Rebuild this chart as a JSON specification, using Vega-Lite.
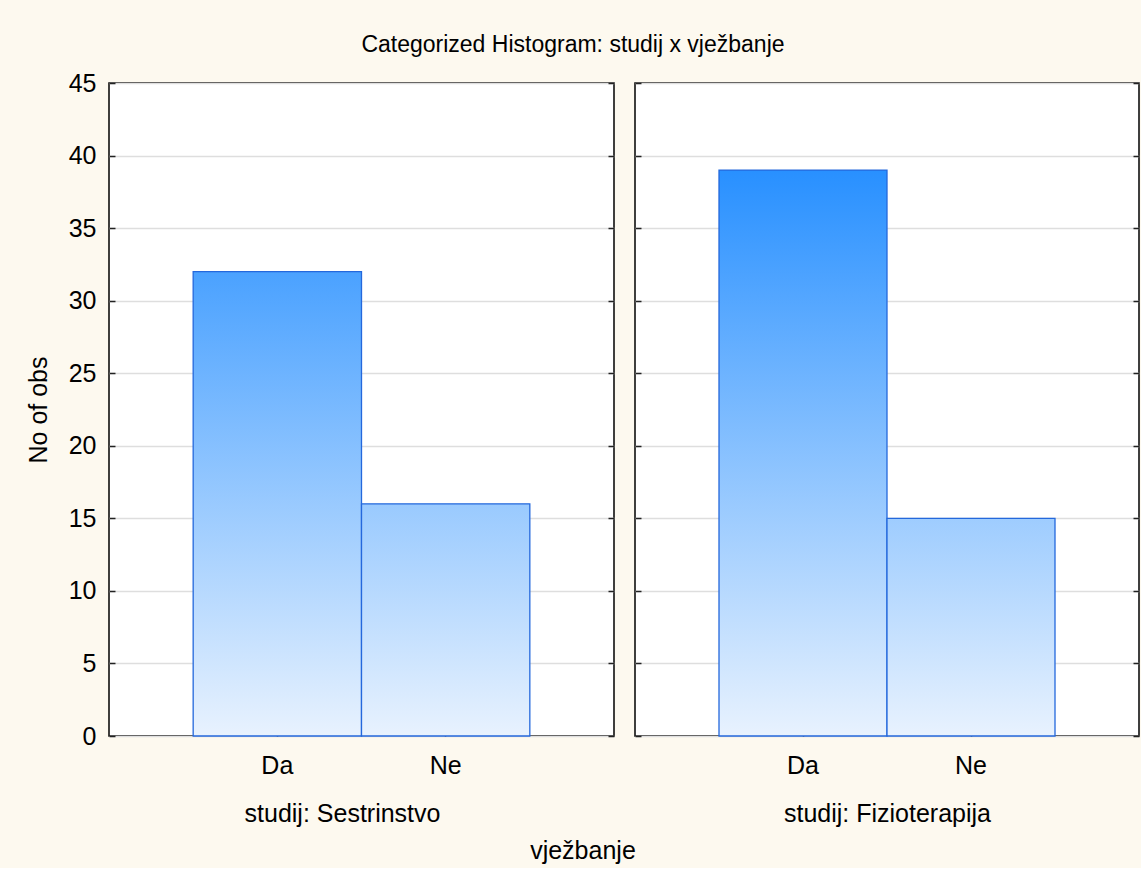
{
  "$schema": "https://vega.github.io/schema/vega-lite/v6.json",
  "background": "#fdf9ef",
  "padding": {"left": 25, "top": 34, "right": 0, "bottom": 4},
  "title": {"text": "Categorized Histogram: studij x vježbanje", "font": "Liberation Sans", "fontSize": 23, "fontWeight": "normal", "color": "#000", "anchor": "middle", "offset": 13, "dx": -10},
  "data": {"values": [
    {"studij": "Sestrinstvo", "vjezbanje": "Da", "n": 32},
    {"studij": "Sestrinstvo", "vjezbanje": "Ne", "n": 16},
    {"studij": "Fizioterapija", "vjezbanje": "Da", "n": 39},
    {"studij": "Fizioterapija", "vjezbanje": "Ne", "n": 15}
  ]},
  "vconcat": [
    {
      "title": {"text": "vježbanje", "orient": "bottom", "font": "Liberation Sans", "fontSize": 25, "fontWeight": "normal", "color": "#000", "anchor": "middle", "offset": 12},
      "spacing": 17,
      "hconcat": [
        {
          "width": 505,
          "height": 653,
          "transform": [{"filter": "datum.studij === 'Sestrinstvo'"}],
          "layer": [
            {
              "mark": {"type": "bar", "stroke": "#2468dc", "strokeWidth": 1.3},
              "encoding": {
                "x": {"field": "vjezbanje", "type": "nominal", "sort": ["Da", "Ne"], "scale": {"paddingInner": 0, "paddingOuter": 0.5}, "axis": {"title": "studij: Sestrinstvo", "labelAngle": 0, "tickSize": -6, "labelPadding": 23, "titlePadding": 23, "titleX": 233}},
                "y": {"field": "n", "type": "quantitative", "scale": {"domain": [0, 45], "nice": false}, "axis": {"orient": "left", "title": "No of obs", "values": [0,5,10,15,20,25,30,35,40,45], "grid": true, "tickSize": -6, "labelPadding": 19, "titlePadding": 17}},
                "fill": {
                  "condition": [
                    {"test": "datum.vjezbanje === 'Da'", "value": {"gradient": "linear", "x1": 0, "y1": 1, "x2": 0, "y2": -0.21875, "stops": [{"offset": 0, "color": "#e8f2fe"}, {"offset": 1, "color": "#2890ff"}]}}
                  ],
                  "value": {"gradient": "linear", "x1": 0, "y1": 1, "x2": 0, "y2": -1.4375, "stops": [{"offset": 0, "color": "#e8f2fe"}, {"offset": 1, "color": "#2890ff"}]}
                }
              }
            },
            {
              "mark": {"type": "bar", "opacity": 0},
              "encoding": {
                "x": {"field": "vjezbanje", "type": "nominal", "sort": ["Da", "Ne"]},
                "y": {"field": "n", "type": "quantitative", "axis": {"orient": "right", "title": null, "labels": false, "grid": false, "tickSize": -6, "values": [0,5,10,15,20,25,30,35,40,45], "minExtent": 0}}
              }
            }
          ],
          "resolve": {"axis": {"y": "independent"}}
        },
        {
          "width": 504,
          "height": 653,
          "transform": [{"filter": "datum.studij === 'Fizioterapija'"}],
          "layer": [
            {
              "mark": {"type": "bar", "stroke": "#2468dc", "strokeWidth": 1.3},
              "encoding": {
                "x": {"field": "vjezbanje", "type": "nominal", "sort": ["Da", "Ne"], "scale": {"paddingInner": 0, "paddingOuter": 0.5}, "axis": {"title": "studij: Fizioterapija", "labelAngle": 0, "tickSize": -6, "labelPadding": 23, "titlePadding": 23}},
                "y": {"field": "n", "type": "quantitative", "scale": {"domain": [0, 45], "nice": false}, "axis": {"orient": "left", "title": null, "labels": false, "values": [0,5,10,15,20,25,30,35,40,45], "grid": true, "tickSize": -6, "minExtent": 0}},
                "fill": {
                  "condition": [
                    {"test": "datum.vjezbanje === 'Da'", "value": {"gradient": "linear", "x1": 0, "y1": 1, "x2": 0, "y2": 0, "stops": [{"offset": 0, "color": "#e8f2fe"}, {"offset": 1, "color": "#2890ff"}]}}
                  ],
                  "value": {"gradient": "linear", "x1": 0, "y1": 1, "x2": 0, "y2": -1.6, "stops": [{"offset": 0, "color": "#e8f2fe"}, {"offset": 1, "color": "#2890ff"}]}
                }
              }
            },
            {
              "mark": {"type": "bar", "opacity": 0},
              "encoding": {
                "x": {"field": "vjezbanje", "type": "nominal", "sort": ["Da", "Ne"]},
                "y": {"field": "n", "type": "quantitative", "axis": {"orient": "right", "title": null, "labels": false, "grid": false, "tickSize": -6, "values": [0,5,10,15,20,25,30,35,40,45], "minExtent": 0}}
              }
            }
          ],
          "resolve": {"axis": {"y": "independent"}}
        }
      ]
    }
  ],
  "config": {
    "font": "Liberation Sans",
    "view": {"fill": "white", "stroke": "#000", "strokeWidth": 1.5},
    "axis": {"labelFont": "Liberation Sans", "labelFontSize": 25, "labelColor": "#000", "titleFont": "Liberation Sans", "titleFontSize": 25, "titleFontWeight": "normal", "titleColor": "#000", "tickColor": "#222", "tickWidth": 1.5, "domain": false, "gridColor": "#dedede", "gridWidth": 1.5, "minExtent": 0}
  }
}
